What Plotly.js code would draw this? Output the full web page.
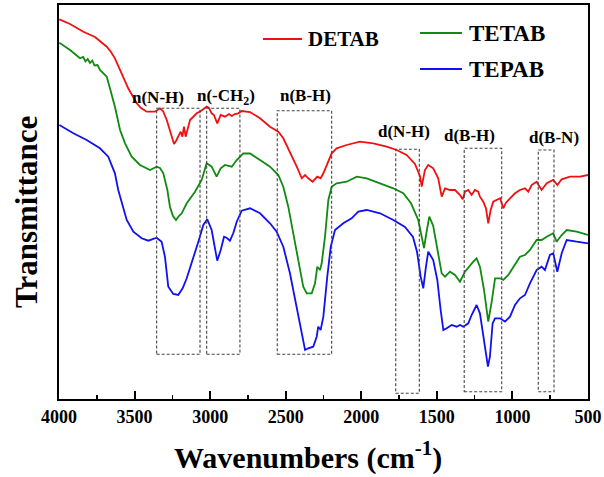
<!DOCTYPE html>
<html>
<head>
<meta charset="utf-8">
<script src="https://cdn.plot.ly/plotly-3.0.1.min.js"></script>
<style>html,body{margin:0;padding:0;background:#fff;}#chart{width:604px;height:477px;}</style>
</head>
<body>
<div id="chart"></div>
<script>
// Wavenumbers (cm-1) and transmittance (arbitrary units, offset curves)
const wnDETAB = [3998,3927,3839,3762,3684,3656,3630,3585,3542,3486,3457,3420,3365,3332,3312,3287,3266,3239,3226,3211,3195,3184,3173,3162,3149,3133,3089,3061,3023,3008,2990,2975,2953,2930,2902,2875,2857,2836,2814,2791,2736,2670,2604,2549,2516,2472,2427,2394,2372,2351,2322,2291,2269,2251,2225,2196,2163,2097,2009,1921,1832,1766,1700,1645,1612,1600,1579,1557,1524,1491,1468,1446,1413,1380,1347,1329,1314,1292,1270,1248,1226,1215,1193,1175,1160,1144,1127,1104,1082,1060,1043,1016,983,950,917,895,873,840,807,773,730,703,674,619,553,500];
const tDETAB = [379.7,375,367.3,362,352.3,347,340.7,325.7,310.7,295.7,291,287.3,287.3,290.7,288,279,269,255,258,262.3,267.3,262.3,272.3,262.3,271,279,285.7,288,292.3,291,285.7,284,275.7,284,282.3,285,283,285,285.7,288,287,280.7,272.3,267.3,260.7,247.3,232.3,220.7,224,220.7,217.3,222.3,220.7,225.7,235.7,245.7,250.7,254,257.3,255.7,252.3,249,244,235,223,212.3,229,234,230.7,220.7,202.3,210.7,209,209,204,199.7,207.3,209,204,209,207.3,202.3,197.3,190.7,175.7,189,197.3,199,200.7,190.7,196.3,200.7,205.7,209,210.7,207.3,214,217.3,209,215.7,219,214,219.7,222.3,222.3,224];

const wnTETAB = [3998,3927,3861,3840,3825,3810,3795,3780,3765,3745,3729,3684,3663,3630,3596,3563,3519,3464,3398,3354,3332,3310,3283,3266,3246,3226,3207,3188,3155,3100,3056,3023,2990,2957,2930,2902,2857,2824,2781,2736,2670,2604,2549,2516,2483,2450,2417,2384,2361,2328,2306,2291,2273,2262,2240,2218,2196,2163,2097,2030,1964,1876,1788,1722,1671,1623,1600,1585,1567,1550,1524,1506,1491,1468,1446,1413,1380,1347,1314,1281,1259,1237,1215,1188,1172,1160,1137,1115,1082,1060,1027,994,950,917,884,840,807,773,730,708,674,641,575,500];
const tTETAB = [356.3,349,340.7,342,337.5,340,336,338.5,333.5,334,329,322.3,310.7,292.3,269,255.7,242.3,234,229,232.3,231,225.7,209,192.3,183,179,183,185.7,195.7,207.3,219,235.7,232.3,222.3,230.7,234,232.3,239,245.7,245.5,239,232.3,224,212.3,192.3,165.7,139,112.3,105.7,105.7,115.7,132.3,129,135.7,162.3,199,212.3,215.7,217.3,222.3,220.7,215.7,210.7,205.7,195.7,179,162.3,151,168,182.3,173,159,144,125.7,122.3,127.3,124,117.3,127.3,134,137.3,140.7,132.3,109,89,77.3,97.3,120.7,120.7,119,124,132.3,142.3,144,149,159,159,162.3,165.7,157.3,164,169,167.3,164];

const wnTEPAB = [3998,3905,3817,3729,3674,3630,3608,3585,3552,3508,3453,3409,3354,3321,3299,3277,3244,3211,3182,3155,3122,3078,3045,3019,2990,2971,2953,2930,2908,2889,2869,2847,2824,2791,2736,2670,2604,2560,2516,2472,2427,2394,2372,2351,2318,2295,2285,2269,2251,2225,2202,2174,2119,2064,2020,1964,1876,1788,1711,1658,1631,1607,1590,1572,1557,1524,1497,1475,1457,1435,1402,1369,1347,1325,1292,1270,1237,1215,1193,1175,1162,1149,1131,1115,1082,1049,1016,983,950,917,884,840,807,785,752,730,703,674,641,575,500];
const tTEPAB = [274,265.7,259,250.7,242.3,225.7,209,195.7,179,167.3,160.7,158.3,161.3,157.3,142.3,112.3,105,104,110.7,120.7,135.7,157.3,174,179.7,169,154,138.3,149,162.3,161,158.3,165.7,177.3,188.3,190.7,185.7,175.7,167.3,152.3,125.7,92.3,65.7,49,50.7,52.3,62.3,72.3,69,82.3,122.3,152.3,169,175.7,180.7,187.3,189,185.7,179,172,162,147,122.3,110.7,132.3,147.3,139,119,89,69,70.7,74,72.3,74,72.3,75.7,84,94,85.7,62.3,45.7,32.3,42.3,75.7,80.7,80.7,77.3,82.3,94,100.7,104,115.7,129,132.3,129,144,145.7,127.3,145.7,159,157.3,155.7];

const seriesNames = ['DETAB','TETAB','TEPAB'];
const seriesColors = ['#f01010','#108a10','#1010f0'];
const xTickVals = [4000,3500,3000,2500,2000,1500,1000,500];

// Band regions
const bandLabels = ['n(N-H)','n(-CH<sub>2</sub>)','n(B-H)','d(N-H)','d(B-H)','d(B-N)'];
const bandHigh = [3354,3023,2556,1772,1319,829];
const bandLow  = [3067,2803,2196,1616,1071,725];
const bandTop  = [290.7,290.7,288.3,249.7,250.7,249];
const bandBot  = [44.7,44.7,44.7,5.7,7.3,7.3];
const labelWn  = [3348,2893,2367,1717,1283,725];
const labelT   = [302,302,304,268,264,262];

const serif = 'Liberation Serif, Times New Roman, serif';

const traces = [
  {x: wnDETAB, y: tDETAB},
  {x: wnTETAB, y: tTETAB},
  {x: wnTEPAB, y: tTEPAB}
].map((d,i)=>({x:d.x, y:d.y, type:'scatter', mode:'lines', name:seriesNames[i],
  line:{color:seriesColors[i], width:1.8}, showlegend:false, hoverinfo:'skip'}));

const shapes = bandHigh.map((h,i)=>({type:'rect', xref:'x', yref:'y', x0:h, x1:bandLow[i],
  y0:bandBot[i], y1:bandTop[i], line:{color:'#444', width:1.1, dash:'3px,2px'}, fillcolor:'rgba(0,0,0,0)'}));

const annotations = bandLabels.map((t,i)=>({x:labelWn[i], y:labelT[i], xref:'x', yref:'y', text:t,
  showarrow:false, font:{family:serif, size:17, color:'#000', weight:'bold'}}));

const W=604,H=477,L=59,R=588,T=5,B=399;
const px = v => (v-L)/(R-L);
const py = v => (B-v)/(B-T);

// Manual legend (paper coords)
const legPos = [
  {x0:263, x1:302, y:39, tx:306, size:21},
  {x0:420, x1:462, y:33, tx:467, size:23},
  {x0:420, x1:462, y:69, tx:467, size:23}
];
legPos.forEach((p,i)=>{
  shapes.push({type:'line', xref:'paper', yref:'paper', x0:px(p.x0), x1:px(p.x1), y0:py(p.y), y1:py(p.y),
    line:{color:seriesColors[i], width:2}});
  annotations.push({xref:'paper', yref:'paper', x:px(p.tx), y:py(p.y), xanchor:'left', yanchor:'middle',
    text:seriesNames[i], showarrow:false, font:{family:serif, size:p.size, color:'#000', weight:'bold'}});
});

// Axis titles
annotations.push({xref:'paper', yref:'paper', x:px(308), y:py(455), xanchor:'center', yanchor:'middle',
  text:'Wavenumbers (cm<sup>-1</sup>)', showarrow:false, font:{family:serif, size:30, color:'#000', weight:'bold'}});
annotations.push({xref:'paper', yref:'paper', x:px(26), y:py(212), xanchor:'center', yanchor:'middle', textangle:-90,
  text:'Transmittance', showarrow:false, font:{family:serif, size:31, color:'#000', weight:'bold'}});

const layout = {
  width:W, height:H,
  margin:{l:L, r:W-R, t:T, b:H-B},
  paper_bgcolor:'#fff', plot_bgcolor:'#fff',
  showlegend:false,
  xaxis:{range:[4000,500], tickvals:xTickVals, ticktext:xTickVals.map(String),
    ticks:'inside', ticklen:8, tickwidth:2, tickcolor:'#000',
    minor:{dtick:250, ticks:'inside', ticklen:4, tickwidth:1.5, tickcolor:'#000'},
    showline:true, linewidth:2, linecolor:'#000', mirror:true, showgrid:false, zeroline:false,
    tickfont:{family:serif, size:18, color:'#000', weight:'bold'}},
  yaxis:{range:[0,394], showticklabels:false, ticks:'', showline:true, linewidth:2, linecolor:'#000',
    mirror:true, showgrid:false, zeroline:false},
  shapes:shapes, annotations:annotations
};

Plotly.newPlot('chart', traces, layout, {displayModeBar:false, staticPlot:true});
</script>
</body>
</html>
